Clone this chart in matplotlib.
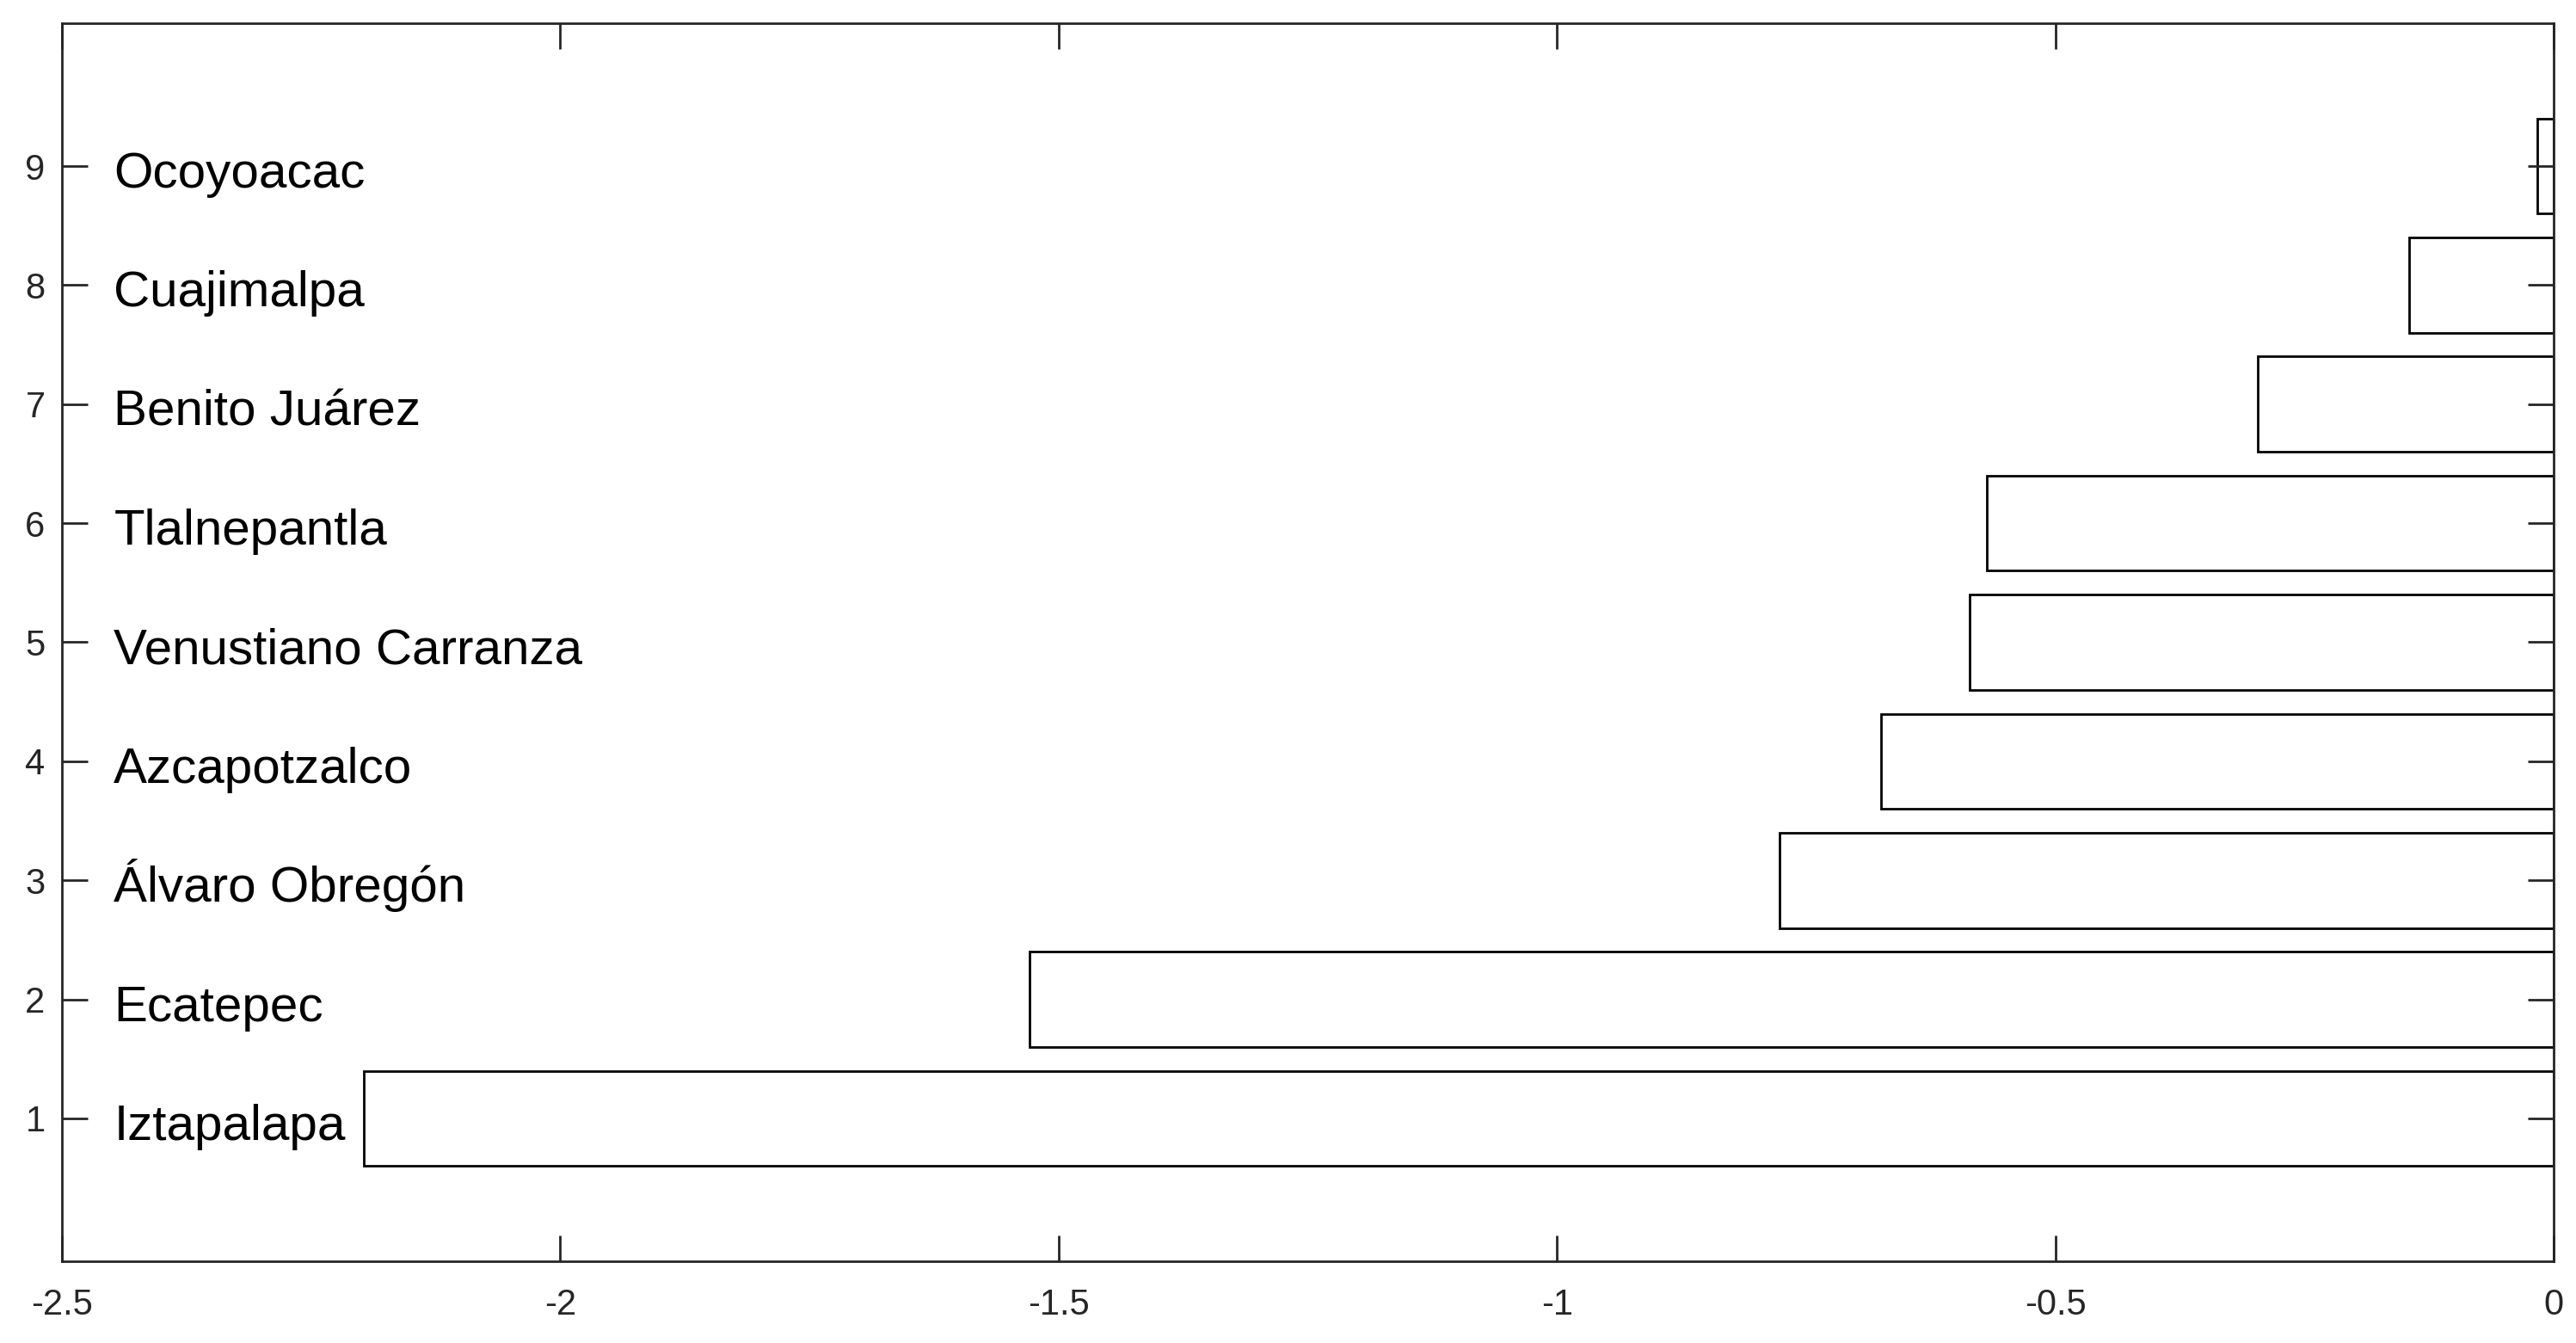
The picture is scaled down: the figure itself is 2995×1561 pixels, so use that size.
import numpy as np
import matplotlib
matplotlib.use('Agg')
import matplotlib.pyplot as plt
from matplotlib.ticker import FixedLocator, FuncFormatter
from matplotlib.transforms import offset_copy

plt.rcParams['font.family'] = ['Liberation Sans', 'DejaVu Sans']

# municipios (de abajo hacia arriba) y sus valores
municipios = ['Iztapalapa', 'Ecatepec', 'Álvaro Obregón', 'Azcapotzalco',
              'Venustiano Carranza', 'Tlalnepantla', 'Benito Juárez',
              'Cuajimalpa', 'Ocoyoacac']
valores = [-2.197, -1.529, -0.777, -0.675, -0.586, -0.569, -0.297, -0.145, -0.016]
posiciones = np.arange(1, len(municipios) + 1)

x_ticks = [-2.5, -2, -1.5, -1, -0.5, 0]

fig = plt.figure(figsize=(29.95, 15.61), dpi=100)
ax = fig.add_axes([72 / 2995, 1 - 1466 / 1561, (2969 - 72) / 2995, (1466 - 27) / 1561])

ax.barh(posiciones, valores, height=0.8, color='white', edgecolor='black', linewidth=2)

# etiquetas dentro del eje (linea base un poco debajo del tick)
trans = offset_copy(ax.transData, fig=fig, y=-25, units='dots')
for y, nombre in zip(posiciones, municipios):
    ax.text(-2.448, y, nombre, fontsize=42, va='baseline', ha='left',
            color='black', transform=trans)

ax.set_xlim(-2.5, 0)
ax.set_ylim(-0.2, 10.2)
ax.xaxis.set_major_locator(FixedLocator(x_ticks))
ax.xaxis.set_major_formatter(FuncFormatter(lambda v, p: '%g' % v))
ax.yaxis.set_major_locator(FixedLocator(list(posiciones)))

for s in ax.spines.values():
    s.set_linewidth(2)
    s.set_color('#262626')
ax.tick_params(axis='both', direction='in', length=21.6, width=2, color='#262626',
               labelcolor='#262626', labelsize=30, top=True, right=True)
ax.tick_params(axis='x', pad=22)
ax.tick_params(axis='y', pad=14)

fig.savefig('out.png', dpi=100)
